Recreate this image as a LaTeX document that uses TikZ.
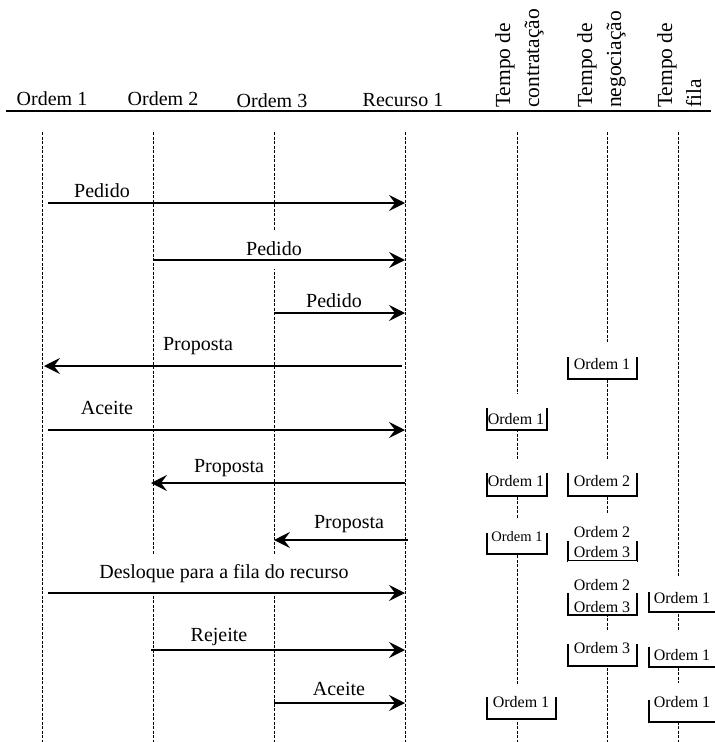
\documentclass[tikz,border=0pt]{standalone}
\usepackage{fontspec}
\setmainfont{Liberation Serif}
\usetikzlibrary{arrows.meta}
\newcommand\ordbox[9]{%
  \fill[white] (#2,#9) rectangle (#3,#5);
  \draw[cupline] (#2,#4) -- (#2,#5) -- (#3,#5) -- (#3,#4);
  \node[btext] (#1) at (#6,#7) {#8};
}
\begin{document}
\begin{tikzpicture}[x=1pt,y=-1pt,
  hdr/.style={font=\fontsize{20}{24}\selectfont, anchor=base, inner sep=0pt},
  vert/.style={rotate=90, anchor=north west, align=left, inner sep=0pt, font=\fontsize{21.5}{29}\selectfont},
  life/.style={dash pattern=on 3pt off 1.5pt, line width=0.8pt},
  cupline/.style={line width=1.1pt},
  btext/.style={font=\fontsize{16}{18}\selectfont, anchor=base, inner sep=0pt},
  msg/.style={line width=1.9pt, -{Stealth[length=16pt,width=16pt,inset=6pt]}},
  mlbl/.style={font=\fontsize{20}{24}\selectfont, anchor=base, fill=white,
    text height=14pt, text depth=4pt, inner xsep=2pt, inner ysep=10pt}]
\useasboundingbox (0,0) rectangle (715,742);

% header
\node[hdr] (o1) at (52,105) {Ordem 1};
\node[hdr] (o2) at (163,105) {Ordem 2};
\node[hdr] (o3) at (272,107) {Ordem 3};
\node[hdr] (r1) at (403,106) {Recurso 1};
\node[vert] (tc) at (495,108) {Tempo de\\contratação};
\node[vert] (tn) at (577,108) {Tempo de\\negociação};
\node[vert] (tf) at (657,108) {Tempo de\\fila};
\coordinate (hl) at (6,111);
\coordinate (hr) at (711,111);
\draw[line width=1.3pt] (hl) -- (hr);

% lifelines
\foreach \n/\x in {L1/42,L2/153,L3/274,L4/405,L5/517,L6/607,L7/678}{
  \coordinate (\n t) at (\x,132);
  \coordinate (\n b) at (\x,742);
  \draw[life] (\n t) -- (\n b);
}

% boxes on time lines
\ordbox{c1}{487}{547}{408}{430}{516}{424}{Ordem 1}{394}
\ordbox{c2}{487}{547}{473}{496}{516}{486}{Ordem 1}{459}
\ordbox{c3}{487}{547}{533}{554}{517}{541}{\fontsize{14.5}{16}\selectfont Ordem 1}{518}
\ordbox{c4}{487}{556}{697}{719}{521}{707}{Ordem 1}{684}

\ordbox{n1}{568}{637}{357}{379}{602}{369}{Ordem 1}{343}
\ordbox{n2}{568}{637}{473}{496}{602}{486}{Ordem 2}{459}
\ordbox{n3}{568}{637}{541}{561}{602}{557}{Ordem 3}{513}
\node[btext] (n3b) at (602,537) {Ordem 2};
\ordbox{n4}{568}{637}{593}{615}{602}{612}{Ordem 3}{561}
\node[btext] (n4b) at (602,590) {Ordem 2};
\ordbox{n5}{568}{637}{644}{666}{602}{653}{Ordem 3}{630}

\ordbox{f1}{649}{716}{592}{612}{682}{603}{Ordem 1}{577}
\ordbox{f2}{649}{716}{647}{667}{682}{660}{Ordem 1}{632}
\ordbox{f3}{649}{716}{700}{722}{682}{707}{Ordem 1}{683}

% message labels (white background cuts the lifelines)
\node[mlbl] (t1) at (102,197) {Pedido};
\node[mlbl] (t2) at (274,255) {Pedido};
\node[mlbl] (t3) at (334,307) {Pedido};
\node[mlbl] (t4) at (198,350) {Proposta};
\node[mlbl] (t5) at (107,414) {Aceite};
\node[mlbl] (t6) at (229,472) {Proposta};
\node[mlbl] (t7) at (349,528) {Proposta};
\node[mlbl] (t8) at (224,578) {Desloque para a fila do recurso};
\node[mlbl] (t9) at (219,641) {Rejeite};
\node[mlbl] (t10) at (339,695) {Aceite};

% messages
\coordinate (m1s) at (48,203);  \coordinate (m1e) at (405,203);
\coordinate (m2s) at (153,260); \coordinate (m2e) at (405,260);
\coordinate (m3s) at (274,313); \coordinate (m3e) at (405,313);
\coordinate (m4s) at (402,366); \coordinate (m4e) at (44,366);
\coordinate (m5s) at (48,430);  \coordinate (m5e) at (405,430);
\coordinate (m6s) at (405,483); \coordinate (m6e) at (151,483);
\coordinate (m7s) at (408,540); \coordinate (m7e) at (274,540);
\coordinate (m8s) at (48,593);  \coordinate (m8e) at (405,593);
\coordinate (m9s) at (151,650); \coordinate (m9e) at (405,650);
\coordinate (m10s) at (274,703); \coordinate (m10e) at (405,703);
\foreach \i in {1,...,10}{ \draw[msg] (m\i s) -- (m\i e); }
\end{tikzpicture}
\end{document}
